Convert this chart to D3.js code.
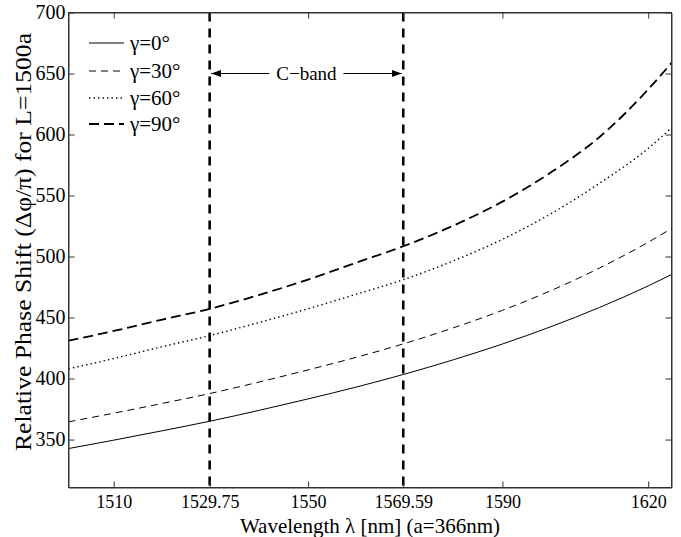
<!DOCTYPE html>
<html>
<head>
<meta charset="utf-8">
<script src="https://cdn.jsdelivr.net/npm/d3@7"></script>
<style>
  html, body { margin: 0; padding: 0; background: #fff; }
  svg { display: block; }
  text { font-family: "Liberation Serif", "Times New Roman", Times, serif; fill: #000; }
</style>
</head>
<body>
<svg id="chart" width="681" height="537"></svg>
<script>
// Wavelength samples (nm) and relative phase shift for each rotation angle
const wavelength = [1500.7, 1510, 1520, 1529.75, 1540, 1550, 1560, 1569.59, 1580, 1590, 1600, 1610, 1620, 1624.8];
const gamma0  = [342.6, 349.5, 357.2, 365.0, 374.0, 383.3, 393.1, 403.3, 415.5, 428.3, 442.5, 458.3, 475.9, 485.2];
const gamma30 = [364.5, 371.6, 379.6, 387.7, 397.2, 407.1, 417.5, 428.4, 441.7, 455.9, 472.1, 490.6, 511.7, 522.9];
const gamma60 = [408.0, 416.4, 426.1, 435.2, 446.0, 457.2, 469.2, 481.0, 496.6, 514.1, 535.1, 560.1, 588.6, 605.5];
const gamma90 = [431.0, 439.0, 448.3, 457.1, 468.6, 481.1, 495.1, 508.4, 525.5, 545.0, 569.0, 598.0, 637.0, 658.7];

const seriesNames = ["γ=0°", "γ=30°", "γ=60°", "γ=90°"];
const xTicks = [1510, 1529.75, 1550, 1569.59, 1590, 1620];
const yTicks = [350, 400, 450, 500, 550, 600, 650, 700];
const bandEdges = [1529.75, 1569.59];
const bandLabel = "C−band";
const xDomain = [1500.7, 1624.8];
const yDomain = [310.7, 700];

const styles = [
  { width: 1.0, dash: null },
  { width: 1.0, dash: "7,5" },
  { width: 1.4, dash: "1.4,3.1" },
  { width: 1.8, dash: "10,5" }
];
const seriesValues = [gamma0, gamma30, gamma60, gamma90];

const L = 68.5, R = 671.5, T = 12.5, B = 487.5;
const svg = d3.select("#chart");
svg.append("rect").attr("width", 681).attr("height", 537).attr("fill", "#fff");

const x = d3.scaleLinear().domain(xDomain).range([L, R]);
const y = d3.scaleLinear().domain(yDomain).range([B, T]);

svg.append("defs").append("clipPath").attr("id", "plot")
  .append("rect").attr("x", L).attr("y", T).attr("width", R - L).attr("height", B - T);

// Curves
const line = d3.line().x(d => x(d[0])).y(d => y(d[1])).curve(d3.curveMonotoneX);
const g = svg.append("g").attr("clip-path", "url(#plot)");
seriesValues.forEach((vals, i) => {
  const pts = wavelength.map((w, k) => [w, vals[k]]);
  g.append("path").datum(pts)
    .attr("d", line)
    .attr("fill", "none")
    .attr("stroke", "#000")
    .attr("stroke-width", styles[i].width)
    .attr("stroke-dasharray", styles[i].dash);
});

// C-band boundaries
bandEdges.forEach(w => {
  g.append("line")
    .attr("x1", x(w)).attr("x2", x(w))
    .attr("y1", T).attr("y2", B)
    .attr("stroke", "#000").attr("stroke-width", 2.6)
    .attr("stroke-dasharray", "9,7");
});

// Axes with inward ticks on all four sides
const tickLen = 6;
const fmtX = d => (Number.isInteger(d) ? d3.format("d")(d) : String(d));
const xAxis = svg.append("g").attr("transform", `translate(0,${B})`)
  .call(d3.axisBottom(x).tickValues(xTicks).tickSizeInner(-tickLen).tickSizeOuter(0).tickPadding(8).tickFormat(fmtX));
svg.append("g").attr("transform", `translate(0,${T})`)
  .call(d3.axisTop(x).tickValues(xTicks).tickSizeInner(-tickLen).tickSizeOuter(0).tickFormat(""));
const yAxis = svg.append("g").attr("transform", `translate(${L},0)`)
  .call(d3.axisLeft(y).tickValues(yTicks).tickSizeInner(-tickLen).tickSizeOuter(0).tickPadding(3));
svg.append("g").attr("transform", `translate(${R},0)`)
  .call(d3.axisRight(y).tickValues(yTicks).tickSizeInner(-tickLen).tickSizeOuter(0).tickFormat(""));

svg.selectAll(".domain").attr("stroke", "#333");
svg.selectAll(".tick line").attr("stroke", "#333");
svg.selectAll(".tick text").attr("font-family", "'Liberation Serif', 'Times New Roman', serif").attr("fill", "#000");
xAxis.selectAll(".tick text").attr("font-size", 18);
yAxis.selectAll(".tick text").attr("font-size", 20);

// Frame
svg.append("rect").attr("x", L).attr("y", T).attr("width", R - L).attr("height", B - T)
  .attr("fill", "none").attr("stroke", "#333").attr("stroke-width", 1);

// Axis titles
svg.append("text").attr("x", (L + R) / 2).attr("y", 533)
  .attr("text-anchor", "middle").attr("font-size", 21)
  .text("Wavelength λ [nm] (a=366nm)");
svg.append("text")
  .attr("transform", `translate(31,${(T + B) / 2 - 8}) rotate(-90)`)
  .attr("text-anchor", "middle").attr("font-size", 23)
  .attr("textLength", 418).attr("lengthAdjust", "spacingAndGlyphs")
  .text("Relative Phase Shift (Δφ/π) for L=1500a");

// Legend
const legY = [43, 71, 98, 124];
seriesNames.forEach((name, i) => {
  svg.append("line")
    .attr("x1", 89).attr("x2", 124).attr("y1", legY[i]).attr("y2", legY[i])
    .attr("stroke", "#000").attr("stroke-width", styles[i].width)
    .attr("stroke-dasharray", styles[i].dash);
  svg.append("text").attr("x", 130).attr("y", legY[i] + 7)
    .attr("font-size", 21).text(name);
});

// C-band annotation with arrows
const defs = svg.select("defs");
defs.append("marker").attr("id", "arrow")
  .attr("viewBox", "0 0 10 10").attr("refX", 10).attr("refY", 5)
  .attr("markerWidth", 10).attr("markerHeight", 10).attr("markerUnits", "userSpaceOnUse")
  .attr("orient", "auto")
  .append("path").attr("d", "M0,1.5 L10,5 L0,8.5 Z").attr("fill", "#000");
const arrowY = y(650);
const xa = x(bandEdges[0]) + 1.5, xb = x(bandEdges[1]) - 1.5;
const midX = (xa + xb) / 2;
svg.append("line").attr("x1", midX - 37).attr("x2", xa).attr("y1", arrowY).attr("y2", arrowY)
  .attr("stroke", "#000").attr("stroke-width", 1.1).attr("marker-end", "url(#arrow)");
svg.append("line").attr("x1", midX + 37).attr("x2", xb).attr("y1", arrowY).attr("y2", arrowY)
  .attr("stroke", "#000").attr("stroke-width", 1.1).attr("marker-end", "url(#arrow)");
svg.append("text").attr("x", midX).attr("y", arrowY + 6)
  .attr("text-anchor", "middle").attr("font-size", 19).text(bandLabel);
</script>
</body>
</html>
